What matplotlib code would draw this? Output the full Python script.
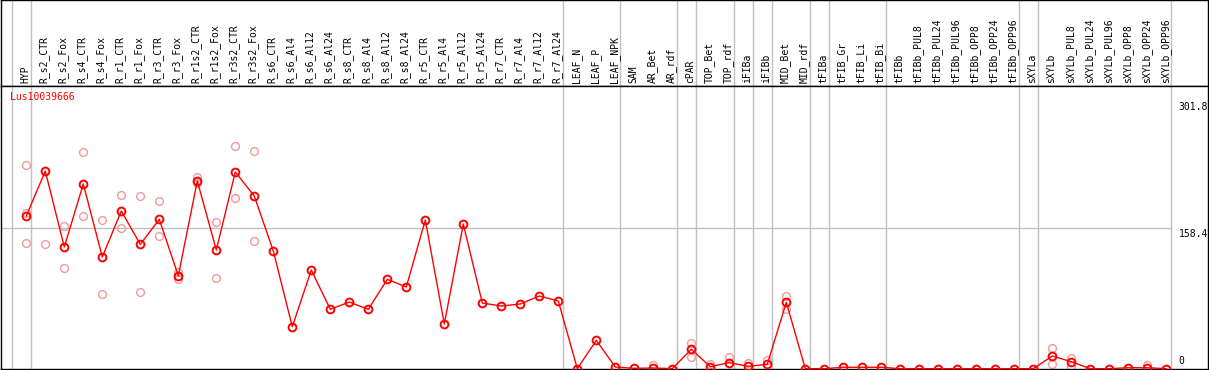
import numpy as np
import matplotlib
matplotlib.use("Agg")
import matplotlib.pyplot as plt
from matplotlib.transforms import blended_transform_factory, offset_copy

plt.rcParams.update({"font.family": "DejaVu Sans Mono", "font.size": 7})

GENE = "Lus10039666"

samples = ["HYP", "R_s2_CTR", "R_s2_Fox", "R_s4_CTR", "R_s4_Fox", "R_r1_CTR",
           "R_r1_Fox", "R_r3_CTR", "R_r3_Fox", "R_r1s2_CTR", "R_r1s2_Fox",
           "R_r3s2_CTR", "R_r3s2_Fox", "R_s6_CTR", "R_s6_Al4", "R_s6_Al12",
           "R_s6_Al24", "R_s8_CTR", "R_s8_Al4", "R_s8_Al12", "R_s8_Al24",
           "R_r5_CTR", "R_r5_Al4", "R_r5_Al12", "R_r5_Al24", "R_r7_CTR",
           "R_r7_Al4", "R_r7_Al12", "R_r7_Al24", "LEAF_N", "LEAF_P", "LEAF_NPK",
           "SAM", "AR_Bet", "AR_rdf", "cPAR", "TOP_Bet", "TOP_rdf", "iFIBa",
           "iFIBb", "MID_Bet", "MID_rdf", "tFIBa", "tFIB_Gr", "tFIB_Li",
           "tFIB_Bi", "tFIBb", "tFIBb_PUL8", "tFIBb_PUL24", "tFIBb_PUL96",
           "tFIBb_OPP8", "tFIBb_OPP24", "tFIBb_OPP96", "sXYLa", "sXYLb",
           "sXYLb_PUL8", "sXYLb_PUL24", "sXYLb_PUL96", "sXYLb_OPP8",
           "sXYLb_OPP24", "sXYLb_OPP96"]

# mean expression per sample
mean_expr = [172.3, 223.0, 137.3, 208.4, 126.0, 177.9, 140.3, 168.5, 104.9,
             211.8, 133.9, 221.9, 194.8, 132.8, 47.4, 111.3, 67.0, 75.2, 67.0,
             100.8, 92.2, 167.8, 50.4, 163.2, 74.1, 70.7, 73.0, 82.0, 76.4,
             0.0, 32.0, 1.9, 0.4, 0.8, 0.0, 21.9, 2.3, 6.8, 2.7, 4.9, 74.9,
             0.0, 0.0, 1.6, 1.6, 1.6, 0.0, 0.0, 0.0, 0.0, 0.0, 0.0, 0.0, 0.0,
             14.3, 7.9, 0.0, 0.0, 1.1, 1.1, 0.0]

# visible replicate values (sample index, value)
rep_idx = [0, 0, 0, 1, 2, 2, 3, 3, 4, 4, 5, 5, 6, 6, 7, 7, 8, 8, 9, 9, 10, 10,
           11, 11, 12, 12, 33, 35, 35, 36, 37, 38, 39, 40, 40, 54, 54, 55, 55, 59]
rep_val = [229.8, 175.3, 141.5, 140.5, 161.0, 113.3, 244.1, 171.9, 167.8, 83.9,
           196.0, 158.4, 194.5, 86.2, 189.2, 149.7, 109.4, 101.2, 215.9, 209.2,
           165.5, 102.0, 251.2, 192.2, 245.3, 144.1, 3.8, 28.6, 13.5, 5.3, 13.5,
           6.1, 9.5, 82.0, 67.3, 23.0, 4.9, 11.7, 3.4, 4.2]

# group boundaries (index of first sample in each group)
group_starts = [0, 1, 29, 32, 35, 36, 38, 39, 40, 42, 43, 46, 53, 54, 61]

ref_line = 158.4
right_labels = ["301.8", "158.4", "0"]
right_vals = [301.8, 158.4, 0.0]

W, H = 1209, 370
fig = plt.figure(figsize=(W / 100, H / 100), dpi=100)

x_left = (1 - 26.3) / 19
x_right = (1208 - 26.3) / 19
off = 14.6 / 19
hdr_px = 85.7
px_per_unit = 0.8864
y_bot = -(369 - 368.7) / px_per_unit
y_top = (368.7 - hdr_px) / px_per_unit

hdr = fig.add_axes([1 / W, 1 - hdr_px / H, 1207 / W, hdr_px / H - 0.5 / H])
ax = fig.add_axes([1 / W, 1 / H, 1207 / W, (369 - hdr_px) / H])
for a in (hdr, ax):
    a.set_xlim(x_left, x_right)
    a.set_xticks([])
    a.set_yticks([])
    for s in a.spines.values():
        s.set_color("black")
        s.set_linewidth(1.0)
    for g in group_starts:
        a.axvline(g - off, color="#c0c0c0", lw=1.0, zorder=0)
hdr.set_ylim(0, 1)
ax.set_ylim(y_bot, y_top)

x = np.arange(len(samples))
for i, name in enumerate(samples):
    hdr.text(i - 0.05, 0.03, name, rotation=90, ha="center", va="bottom",
             fontsize=7, color="black")

ax.hlines(ref_line, x_left, 61 - off, color="#c0c0c0", lw=1.0, zorder=0)

ax.plot(rep_idx, rep_val, linestyle="none", marker="o", markersize=5.6,
        markerfacecolor="none", markeredgecolor="#f09a9a", markeredgewidth=1.0,
        zorder=2, clip_on=False)
ax.plot(x, mean_expr, color="red", lw=1.0, marker="o", markersize=5.6,
        markerfacecolor="none", markeredgecolor="red", markeredgewidth=1.4,
        zorder=3, clip_on=False)

ax.text(9 / 1207, (369 - 97.3) / (369 - hdr_px), GENE, transform=ax.transAxes,
        color="red", fontsize=7, ha="left", va="center")

trans = blended_transform_factory(ax.transData, ax.transData)
for lab, v in zip(right_labels, right_vals):
    if v == 0:
        t = offset_copy(trans, fig=fig, x=0, y=2.5, units="dots")
        ax.text(61 - off + 8 / 19, v, lab, transform=t, ha="left", va="bottom",
                fontsize=7)
    else:
        t = offset_copy(trans, fig=fig, x=0, y=-1, units="dots")
        ax.text(61 - off + 8 / 19, v, lab, transform=t, ha="left", va="top",
                fontsize=7)

fig.savefig("out.png", dpi=100)
